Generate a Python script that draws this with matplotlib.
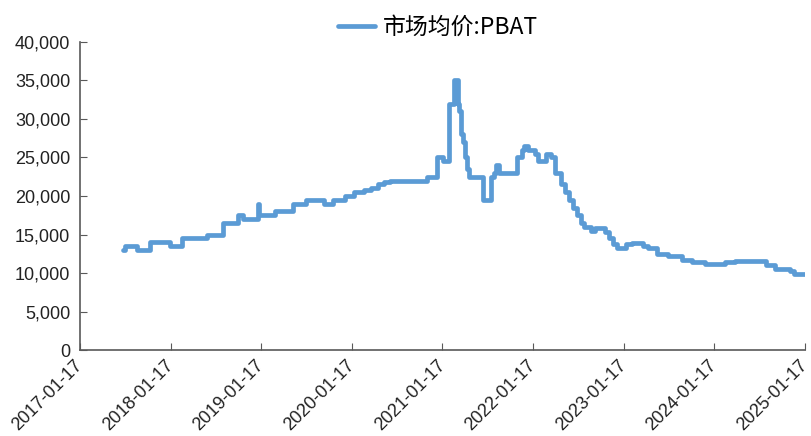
import pandas as pd
import numpy as np
import matplotlib.pyplot as plt
from matplotlib.ticker import FuncFormatter

plt.rcParams['font.family'] = ['Liberation Sans', 'Noto Sans CJK SC', 'DejaVu Sans']

# ---- data: PBAT market average price (yuan/t), step changes ----
dates = [
    "2017-07-09", "2017-07-17", "2017-09-04", "2017-10-26", "2018-01-15", "2018-03-04",
    "2018-06-13", "2018-08-16", "2018-10-16", "2018-11-05", "2019-01-01", "2019-01-05",
    "2019-01-09", "2019-03-14", "2019-05-26", "2019-07-17", "2019-09-28", "2019-11-03",
    "2019-12-21", "2020-01-27", "2020-03-07", "2020-04-04", "2020-05-02", "2020-05-27",
    "2020-06-20", "2020-11-16", "2020-12-26", "2021-01-19", "2021-02-13", "2021-03-05",
    "2021-03-21", "2021-03-25", "2021-04-02", "2021-04-10", "2021-04-18", "2021-04-26",
    "2021-05-04", "2021-06-30", "2021-08-01", "2021-08-13", "2021-08-21", "2021-09-02",
    "2021-11-14", "2021-12-04", "2021-12-12", "2021-12-28", "2022-01-25", "2022-02-06",
    "2022-03-11", "2022-03-31", "2022-04-16", "2022-05-10", "2022-05-26", "2022-06-11",
    "2022-06-28", "2022-07-14", "2022-07-30", "2022-08-11", "2022-09-08", "2022-09-24",
    "2022-11-04", "2022-11-20", "2022-12-06", "2022-12-22", "2023-01-27", "2023-02-20",
    "2023-04-06", "2023-04-26", "2023-06-01", "2023-07-15", "2023-09-10", "2023-10-20",
    "2023-12-12", "2024-03-01", "2024-04-11", "2024-07-20", "2024-08-14", "2024-09-19",
    "2024-11-18", "2024-12-04", "2025-01-17",
]
prices = [
    13000, 13500, 13000, 14000, 13500, 14500,
    15000, 16500, 17500, 17000, 17000, 19000,
    17500, 18000, 19000, 19500, 19000, 19500,
    20000, 20500, 20800, 21000, 21500, 21800,
    22000, 22500, 25000, 24500, 32000, 35000,
    32000, 31000, 28000, 27000, 25000, 23500,
    22500, 19500, 22500, 23000, 24000, 23000,
    25000, 26000, 26500, 26000, 25500, 24500,
    25500, 25000, 23000, 21500, 20500, 19500,
    18500, 17500, 16500, 16000, 15500, 15800,
    15300, 14500, 13800, 13200, 13800, 13900,
    13500, 13200, 12500, 12200, 11700, 11400,
    11200, 11400, 11600, 11500, 11000, 10500,
    10300, 9900, 9900,
]
tick_dates = [f"{y}-01-17" for y in range(2017, 2026)]
series_name = "市场均价:PBAT"

df = pd.DataFrame({"date": pd.to_datetime(dates), "price": prices})

fig = plt.figure(figsize=(8.11, 4.36), dpi=100)
ax = fig.add_axes([0.0986, 0.197, 0.894, 0.707])

ax.step(df["date"], df["price"], where="post", color="#5B9BD5", lw=3.4,
        label=series_name, solid_joinstyle="round", solid_capstyle="round")

ticks = pd.to_datetime(tick_dates)
ax.set_xlim(ticks[0], ticks[-1])
ax.set_xticks(ticks)
ax.set_xticklabels(tick_dates, rotation=45, ha="right", va="center",
                   rotation_mode="anchor")
ax.set_ylim(0, 40000)
ax.set_yticks(np.arange(0, 40001, 5000))
ax.yaxis.set_major_formatter(FuncFormatter(lambda v, p: f"{int(v):,}"))

for s in ["top", "right"]:
    ax.spines[s].set_visible(False)
for s in ["left", "bottom"]:
    ax.spines[s].set_color("#595959")
    ax.spines[s].set_linewidth(1.2)
ax.tick_params(axis="both", direction="in", length=5, color="#595959",
               labelsize=13, labelcolor="#222222")
ax.tick_params(axis="y", pad=7)
ax.tick_params(axis="x", pad=9)

fig.legend(loc="upper center", bbox_to_anchor=(0.54, 1.01), frameon=False,
           handlelength=1.6, handletextpad=0.35,
           prop={"family": ["Noto Sans CJK SC", "DejaVu Sans"], "size": 16.5})

fig.savefig("out.png", dpi=100)
